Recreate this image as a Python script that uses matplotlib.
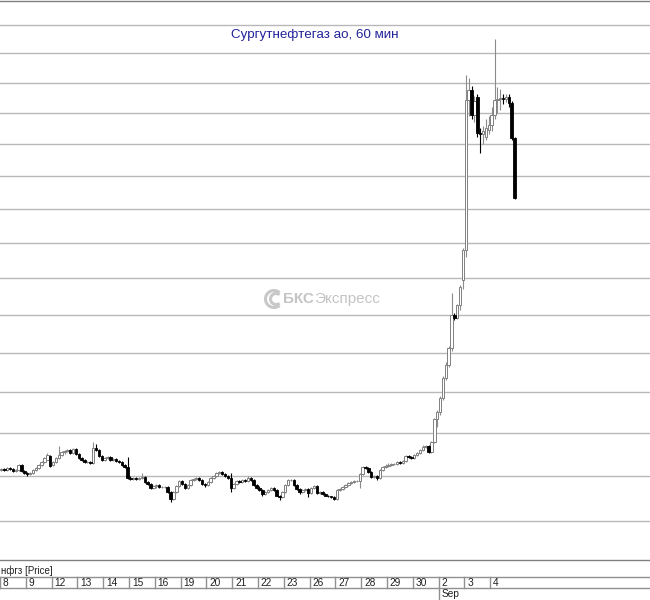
import numpy as np
import matplotlib
matplotlib.use("Agg")
import matplotlib.pyplot as plt
from matplotlib.lines import Line2D
from matplotlib.patches import Arc
from matplotlib.ticker import FixedLocator, NullLocator, NullFormatter
from matplotlib.transforms import blended_transform_factory

plt.rcParams['font.family'] = ['Liberation Sans', 'DejaVu Sans']

# торговые дни (9 часовых свечей в день)
day_labels = ['8', '9', '12', '13', '14', '15', '16', '19', '20', '21',
              '22', '23', '26', '27', '28', '29', '30', '2', '3', '4']
month_label = 'Sep'
month_start = 17          # индекс дня, с которого начинается сентябрь
bars_per_day = 9

opens = [
    23.14, 23.16, 23.14, 23.18, 23.16, 23.12, 23.14, 23.25, 23.12,
    23.07, 23.05, 23.07, 23.14, 23.19, 23.26, 23.32, 23.38, 23.46,
    23.25, 23.32, 23.42, 23.49, 23.55, 23.58, 23.60, 23.53, 23.62,
    23.51, 23.42, 23.37, 23.32, 23.32, 23.30, 23.65, 23.60, 23.46,
    23.37, 23.42, 23.44, 23.37, 23.39, 23.35, 23.32, 23.26, 23.21,
    22.96, 22.93, 22.96, 22.93, 22.96, 22.98, 22.86, 22.82, 22.73,
    22.77, 22.79, 22.75, 22.75, 22.75, 22.63, 22.49, 22.63, 22.77,
    22.89, 22.82, 22.73, 22.79, 22.91, 22.93, 22.96, 22.91, 22.82,
    22.79, 22.86, 22.96, 23.00, 23.07, 23.09, 23.05, 23.00, 22.96,
    22.73, 22.82, 22.89, 22.86, 22.91, 22.89, 22.96, 22.91, 22.79,
    22.73, 22.68, 22.59, 22.63, 22.68, 22.73, 22.68, 22.56, 22.52,
    22.63, 22.79, 22.91, 22.91, 22.79, 22.70, 22.63, 22.68, 22.70,
    22.61, 22.73, 22.77, 22.61, 22.63, 22.59, 22.56, 22.54, 22.52,
    22.49, 22.68, 22.70, 22.75, 22.79, 22.84, 22.86, 22.89, 22.89,
    23.05, 23.21, 23.19, 23.09, 22.98, 23.00, 22.96, 23.14, 23.21,
    23.23, 23.26, 23.28, 23.28, 23.32, 23.30, 23.35, 23.46, 23.44,
    23.42, 23.49, 23.53, 23.60, 23.67, 23.69, 23.55, 23.79, 24.35,
    24.52, 24.86, 25.36, 25.69, 26.12, 26.99, 26.91, 27.26, 27.95,
    28.79, 33.42, 33.75, 32.93, 33.52, 32.34, 32.30, 32.21, 32.44,
    32.60, 32.93, 33.42, 33.45, 33.48, 33.45, 33.52, 33.32, 32.18,
]
closes = [
    23.16, 23.14, 23.18, 23.16, 23.12, 23.14, 23.25, 23.12, 23.07,
    23.05, 23.07, 23.14, 23.19, 23.26, 23.32, 23.42, 23.49, 23.23,
    23.32, 23.42, 23.49, 23.55, 23.58, 23.60, 23.53, 23.62, 23.51,
    23.42, 23.37, 23.32, 23.32, 23.30, 23.65, 23.60, 23.46, 23.37,
    23.42, 23.44, 23.37, 23.39, 23.35, 23.32, 23.26, 23.21, 22.96,
    22.93, 22.96, 22.93, 22.96, 22.98, 22.86, 22.82, 22.73, 22.77,
    22.79, 22.75, 22.75, 22.75, 22.63, 22.49, 22.63, 22.77, 22.89,
    22.82, 22.73, 22.79, 22.91, 22.93, 22.96, 22.91, 22.82, 22.79,
    22.86, 22.96, 23.00, 23.07, 23.09, 23.05, 23.00, 22.96, 22.73,
    22.82, 22.89, 22.86, 22.91, 22.89, 22.96, 22.91, 22.79, 22.73,
    22.68, 22.59, 22.63, 22.68, 22.73, 22.68, 22.56, 22.52, 22.63,
    22.79, 22.91, 22.91, 22.79, 22.70, 22.63, 22.68, 22.70, 22.61,
    22.73, 22.77, 22.61, 22.63, 22.59, 22.56, 22.54, 22.52, 22.49,
    22.68, 22.70, 22.75, 22.79, 22.84, 22.86, 22.89, 22.89, 23.05,
    23.21, 23.19, 23.09, 22.98, 23.00, 22.96, 23.14, 23.21, 23.23,
    23.26, 23.28, 23.28, 23.32, 23.30, 23.35, 23.46, 23.44, 23.42,
    23.49, 23.53, 23.60, 23.67, 23.69, 23.55, 23.79, 24.35, 24.52,
    24.86, 25.36, 25.69, 26.12, 26.99, 26.91, 27.26, 27.76, 28.79,
    33.42, 33.75, 32.93, 33.40, 32.34, 32.30, 32.40, 32.50, 32.60,
    32.93, 33.42, 33.45, 33.48, 33.45, 33.52, 33.32, 32.18, 30.32,
]
highs = [
    23.19, 23.18, 23.21, 23.20, 23.18, 23.16, 23.28, 23.27, 23.14,
    23.10, 23.09, 23.16, 23.21, 23.28, 23.35, 23.44, 23.53, 23.48,
    23.34, 23.45, 23.69, 23.57, 23.61, 23.63, 23.62, 23.64, 23.64,
    23.53, 23.45, 23.39, 23.34, 23.34, 23.78, 23.74, 23.62, 23.48,
    23.45, 23.47, 23.46, 23.41, 23.41, 23.37, 23.34, 23.28, 23.44,
    22.99, 22.98, 22.98, 22.98, 23.07, 23.00, 22.89, 22.84, 22.80,
    22.82, 22.81, 22.77, 22.77, 22.77, 22.65, 22.65, 22.79, 22.91,
    22.92, 22.84, 22.81, 22.93, 22.95, 22.98, 22.98, 22.93, 22.85,
    22.88, 22.98, 23.02, 23.09, 23.12, 23.11, 23.07, 23.02, 23.07,
    22.84, 22.91, 22.91, 22.93, 22.93, 22.99, 22.98, 22.93, 22.82,
    22.77, 22.70, 22.65, 22.70, 22.75, 22.75, 22.70, 22.58, 22.65,
    22.81, 22.93, 22.94, 22.93, 22.81, 22.72, 22.70, 22.72, 22.72,
    22.75, 22.80, 22.79, 22.65, 22.65, 22.61, 22.58, 22.56, 22.54,
    22.70, 22.73, 22.77, 22.82, 22.86, 22.88, 22.91, 22.91, 23.07,
    23.23, 23.24, 23.21, 23.11, 23.02, 23.02, 23.16, 23.23, 23.28,
    23.30, 23.30, 23.30, 23.34, 23.34, 23.37, 23.48, 23.49, 23.46,
    23.51, 23.55, 23.62, 23.72, 23.72, 23.71, 23.81, 24.37, 24.56,
    24.90, 25.40, 25.75, 26.18, 27.59, 27.05, 27.30, 27.80, 28.85,
    34.26, 34.16, 33.90, 33.55, 33.60, 32.50, 32.55, 32.80, 32.90,
    33.20, 35.50, 33.85, 33.80, 33.60, 33.60, 33.60, 33.40, 32.20,
]
lows = [
    23.12, 23.11, 23.12, 23.14, 23.09, 23.10, 23.12, 23.09, 23.04,
    23.01, 23.03, 23.05, 23.12, 23.16, 23.24, 23.30, 23.36, 23.20,
    23.22, 23.30, 23.40, 23.46, 23.52, 23.55, 23.50, 23.51, 23.48,
    23.40, 23.35, 23.30, 23.30, 23.28, 23.28, 23.57, 23.44, 23.35,
    23.35, 23.40, 23.35, 23.35, 23.33, 23.30, 23.24, 23.18, 22.93,
    22.90, 22.91, 22.91, 22.91, 22.94, 22.84, 22.79, 22.70, 22.71,
    22.74, 22.73, 22.73, 22.73, 22.61, 22.42, 22.47, 22.61, 22.75,
    22.80, 22.70, 22.71, 22.77, 22.89, 22.91, 22.89, 22.80, 22.76,
    22.77, 22.84, 22.94, 22.98, 23.05, 23.03, 22.98, 22.94, 22.63,
    22.70, 22.80, 22.84, 22.84, 22.87, 22.87, 22.89, 22.77, 22.70,
    22.66, 22.56, 22.57, 22.61, 22.66, 22.66, 22.54, 22.47, 22.50,
    22.61, 22.77, 22.89, 22.77, 22.68, 22.60, 22.61, 22.66, 22.52,
    22.59, 22.71, 22.59, 22.59, 22.57, 22.54, 22.52, 22.50, 22.47,
    22.47, 22.66, 22.68, 22.73, 22.77, 22.82, 22.84, 22.87, 22.73,
    23.03, 23.16, 23.07, 22.96, 22.96, 22.91, 22.94, 23.12, 23.19,
    23.21, 23.24, 23.26, 23.26, 23.28, 23.28, 23.33, 23.42, 23.40,
    23.40, 23.46, 23.51, 23.58, 23.65, 23.53, 23.53, 23.76, 24.15,
    24.45, 24.80, 25.30, 25.62, 26.05, 26.85, 26.88, 27.13, 27.70,
    28.60, 32.90, 32.80, 32.70, 32.20, 31.70, 32.00, 32.10, 32.30,
    32.40, 32.80, 33.00, 33.10, 33.30, 33.35, 33.20, 32.10, 30.30,
]

grid_prices = list(range(22, 37))

W, H = 650, 600


def fy(py):
    # пиксель сверху -> доля фигуры
    return 1 - py / H


fig = plt.figure(figsize=(W / 100, H / 100), dpi=100)
ax = fig.add_axes([0, fy(560), 1, (560 - 1) / H])

o = np.array(opens)
c = np.array(closes)
hi = np.array(highs)
lo = np.array(lows)
x = np.arange(len(c))
up = c >= o
body_lo = np.minimum(o, c)
body_h = np.abs(c - o)

ax.set_yscale('log')
ax.set_ylim(21.16, 36.87)
px_per_bar = 25.8 / bars_per_day
ax.set_xlim(-0.5, -0.5 + W / px_per_bar)

# тени
ax.vlines(x[up], lo[up], hi[up], color='#8c8c8c', lw=0.8, zorder=2)
ax.vlines(x[~up], lo[~up], hi[~up], color='black', lw=0.8, zorder=2)
# тела
ax.bar(x[up], body_h[up], bottom=body_lo[up], width=0.85,
       facecolor='white', edgecolor='#808080', lw=0.7, zorder=3)
ax.bar(x[~up], body_h[~up], bottom=body_lo[~up], width=0.85,
       facecolor='black', edgecolor='black', lw=0.6, zorder=3)

ax.yaxis.set_major_locator(FixedLocator(grid_prices))
ax.yaxis.set_minor_locator(NullLocator())
ax.yaxis.set_minor_formatter(NullFormatter())
ax.grid(axis='y', color='#b8b8b8', lw=1)
ax.set_axisbelow(True)
ax.tick_params(which='both', left=False, labelleft=False,
               bottom=False, labelbottom=False)
for side in ['left', 'right']:
    ax.spines[side].set_visible(False)
for side in ['top', 'bottom']:
    ax.spines[side].set_color('#808080')
    ax.spines[side].set_linewidth(1)

# заголовок
fig.text(315 / W, fy(35), 'Сургутнефтегаз ао, 60 мин', ha='center',
         va='center', fontsize=9.6, color='#22229a')

# водяной знак
fig.text(283 / W, fy(299), 'БКС', ha='left', va='center', fontsize=11,
         fontweight='bold', color='#c4c4c4')
fig.text(314 / W, fy(299), 'Экспресс', ha='left', va='center',
         fontsize=11, color='#c4c4c4')
for dx, size in [(0.0, 0.17), (0.02, 0.11)]:
    fig.add_artist(Arc((2.74 + dx, 3.01), size, size, theta1=50, theta2=310,
                       transform=fig.dpi_scale_trans, color='#c8c8c8', lw=2.2))

# подвал с датами
fig.text(1 / W, fy(571), 'нфгз [Price]', ha='left', va='center',
         fontsize=7, color='#202020')
for py in [577, 588]:
    fig.add_artist(Line2D([0, 1], [fy(py), fy(py)], transform=fig.transFigure,
                          color='#909090', lw=1))
trans = blended_transform_factory(ax.transData, fig.transFigure)
for i, lab in enumerate(day_labels):
    xb = i * bars_per_day - 0.5
    y_end = 600 if i == month_start else 588
    fig.add_artist(Line2D([xb, xb], [fy(577), fy(y_end)], transform=trans,
                          color='#909090', lw=1))
    fig.text(xb + 1.0, fy(583), lab, transform=trans, ha='left', va='center',
             fontsize=7.3, color='#202020')
fig.text(month_start * bars_per_day - 0.5 + 1.0, fy(594), month_label,
         transform=trans, ha='left', va='center', fontsize=7.3, color='#202020')

fig.savefig('out.png', dpi=100)
